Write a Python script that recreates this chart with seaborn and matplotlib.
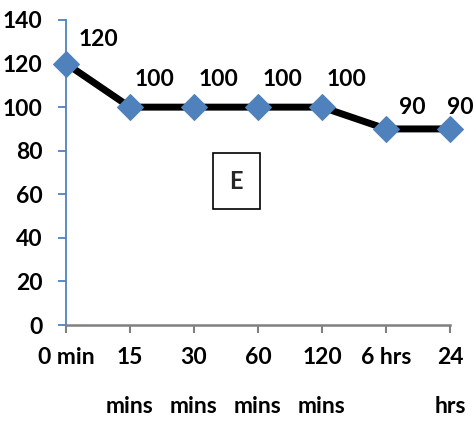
import matplotlib
matplotlib.use("Agg")
import matplotlib.pyplot as plt
import seaborn as sns
import pandas as pd

times = ["0 min", "15\nmins", "30\nmins", "60\nmins", "120\nmins", "6 hrs", "24\nhrs"]
values = [120, 100, 100, 100, 100, 90, 90]
y_ticks = [0, 20, 40, 60, 80, 100, 120, 140]
panel_label = "E"

# label offsets (pixels) of each value label's centre from its point
label_dx = [32, 25, 25, 25, 25, 26, 10]
label_dy = [24, 28, 28, 28, 28, 21, 21]

sns.set_theme(style="white")
plt.rcParams["font.family"] = ["Liberation Sans Narrow", "Lato", "DejaVu Sans"]
plt.rcParams["font.weight"] = "bold"

df = pd.DataFrame({"pos": range(len(times)), "value": values})

fig = plt.figure(figsize=(4.77, 4.32), dpi=100)
ax = fig.add_axes([66 / 477, 107 / 432, 384 / 477, 305 / 432])

sns.lineplot(data=df, x="pos", y="value", ax=ax, color="black", linewidth=5,
             marker="D", markersize=13, markerfacecolor="#4F81BD",
             markeredgecolor="#4F81BD", zorder=3, clip_on=False)

for x, v, dx, dy in zip(df["pos"], df["value"], label_dx, label_dy):
    ax.annotate(str(v), (x, v), xytext=(dx, dy), textcoords="offset pixels",
                ha="center", va="center", fontsize=16.5, fontweight="bold", color="black")

ax.set_xlim(0, len(times) - 1)
ax.set_ylim(0, 140)
ax.set_xticks(range(len(times)))
ax.set_xticklabels(times, fontsize=16.5, fontweight="bold", va="top", linespacing=2.65)
ax.set_yticks(y_ticks)
ax.set_yticklabels([str(t) for t in y_ticks], fontsize=16.5, fontweight="bold")
ax.set_xlabel("")
ax.set_ylabel("")

for side in ["top", "right"]:
    ax.spines[side].set_visible(False)
ax.spines["left"].set_color("#4F81BD")
ax.spines["left"].set_linewidth(1.3)
ax.spines["bottom"].set_color("#808080")
ax.spines["bottom"].set_linewidth(1.8)
ax.tick_params(axis="y", direction="out", length=6, width=1.3, color="#4F81BD", pad=11,
               left=True, labelcolor="black")
ax.tick_params(axis="x", direction="out", length=6, width=1.5, color="#808080", pad=10,
               bottom=True, labelcolor="black")

ax.text(2.66, 66, panel_label, ha="center", va="center", fontsize=17, fontweight="bold",
        bbox=dict(boxstyle="square,pad=0.7", facecolor="white", edgecolor="black", linewidth=1.2))

fig.savefig("out.png", dpi=100)
